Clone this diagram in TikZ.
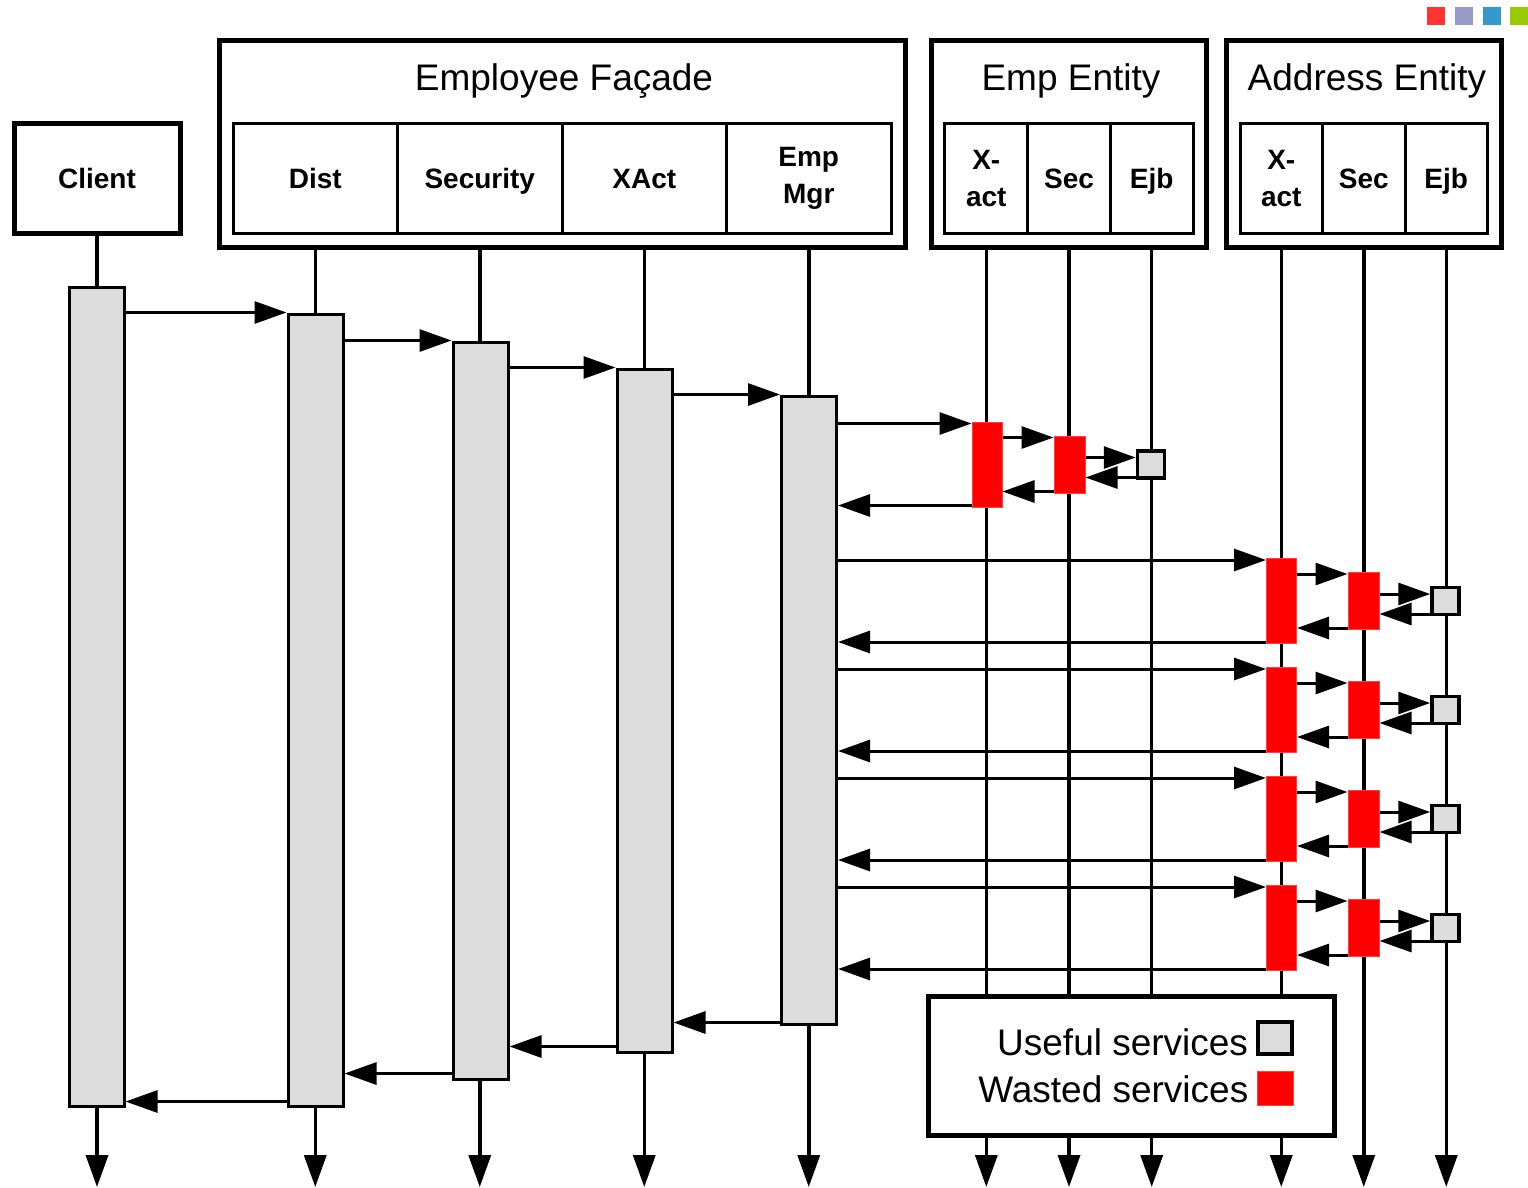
\documentclass[tikz,border=0pt]{standalone}
\usepackage{fontspec}
\setmainfont{Liberation Sans}
\usetikzlibrary{
  positioning,
  arrows.meta,
  }

\definecolor{barGray}{RGB}{220,220,220}
\definecolor{wasteRed}{RGB}{255,0,0}
\definecolor{sqRed}{RGB}{255,51,51}
\definecolor{sqLilac}{RGB}{153,153,204}
\definecolor{sqBlue}{RGB}{51,153,204}
\definecolor{sqGreen}{RGB}{153,204,0}

\tikzset{
  outer/.style={draw, line width=5pt, fill=white, minimum height=207pt, inner sep=0pt},
  head/.style={draw, line width=5pt, fill=white, minimum width=166pt, minimum height=110pt,
    inner sep=0pt, text height=20pt, text depth=0pt, font=\fontsize{28}{37}\selectfont\bfseries},
  cell/.style={draw, line width=3pt, fill=white, minimum height=110pt, inner sep=0pt,
    outer sep=0pt, align=center, font=\fontsize{28}{37}\selectfont\bfseries},
  one/.style={text height=20pt, text depth=0pt},
  title/.style={inner sep=0pt, font=\fontsize{37}{44}\selectfont},
  life/.style={line width=3.5pt, -{Triangle[length=32pt,width=22pt]}},
  msg/.style={line width=3pt, -{Triangle[length=32pt,width=22pt]}},
  bar/.style={draw, line width=3pt, fill=barGray, minimum width=55pt, inner sep=0pt},
  waste/.style={fill=wasteRed, draw=wasteRed!75!white, line width=1pt, minimum width=30pt, inner sep=0pt},
  useful/.style={draw, line width=3.5pt, fill=barGray, minimum width=27pt, minimum height=27pt, inner sep=0pt},
  legtext/.style={inner sep=0pt, text height=26pt, text depth=0pt, font=\fontsize{37}{44}\selectfont},
}

\begin{document}
\begin{tikzpicture}[x=1pt, y=-1pt]
  \useasboundingbox (0,0) rectangle (1528,1187);
  \coordinate (bot) at (0,1187);

  % colour marks
  \foreach \c/\x in {sqRed/1436, sqLilac/1464, sqBlue/1491.5, sqGreen/1519}
    \node[fill=\c, minimum size=18pt, inner sep=0pt] (mark\c) at (\x,16) {};

  % heads
  \node[head] (client) at (97,178) {Client};

  \node[outer, minimum width=686pt] (fac) at (562,143.5) {};
  \node[title] (facT) at (564,81) {Employee Façade};
  \node[cell, one, minimum width=164.5pt] (dist) at (315.25,178) {Dist};
  \node[cell, one, minimum width=164.5pt, right=0pt of dist] (sec) {Security};
  \node[cell, one, minimum width=164.5pt, right=0pt of sec] (xact) {XAct};
  \node[cell, minimum width=164.5pt, right=0pt of xact] (mgr) {Emp\\Mgr};

  \node[outer, minimum width=275pt] (emp) at (1068.5,143.5) {};
  \node[title] (empT) at (1071,81) {Emp Entity};
  \node[cell, minimum width=82.7pt] (eX) at (986.3,178) {X-\\act};
  \node[cell, one, minimum width=82.7pt, right=0pt of eX] (eS) {Sec};
  \node[cell, one, minimum width=82.7pt, right=0pt of eS] (eE) {Ejb};

  \node[outer, minimum width=275pt] (addr) at (1363.5,143.5) {};
  \node[title] (addrT) at (1367,81) {Address Entity};
  \node[cell, minimum width=82.5pt] (aX) at (1281.25,178) {X-\\act};
  \node[cell, one, minimum width=82.5pt, right=0pt of aX] (aS) {Sec};
  \node[cell, one, minimum width=82.5pt, right=0pt of aS] (aE) {Ejb};

  % lifelines
  \draw[life] (client.south) -- (client.south |- bot);
  \foreach \n in {dist, sec, xact, mgr}
    \draw[life] (\n.south |- fac.south) -- (\n.south |- bot);
  \foreach \n in {eX, eS, eE}
    \draw[life] (\n.south |- emp.south) -- (\n.south |- bot);
  \foreach \n in {aX, aS, aE}
    \draw[life] (\n.south |- addr.south) -- (\n.south |- bot);

  % activations
  \node[bar, minimum height=819pt] (clB) at (96.5,696.5) {};
  \node[bar, minimum height=792pt] (diB) at (315.5,710) {};
  \node[bar, minimum height=737pt] (seB) at (480.5,710.5) {};
  \node[bar, minimum height=683pt] (xaB) at (644.5,710.5) {};
  \node[bar, minimum height=628pt] (emB) at (809,710) {};

  % calls down the facade
  \draw[msg] (clB.east |- diB.north) -- (diB.north west);
  \draw[msg] (diB.east |- seB.north) -- (seB.north west);
  \draw[msg] (seB.east |- xaB.north) -- (xaB.north west);
  \draw[msg] (xaB.east |- emB.north) -- (emB.north west);

  % returns
  \draw[msg] ([yshift=3pt]emB.south west) -- ([yshift=3pt]emB.south -| xaB.east);
  \draw[msg] ([yshift=7pt]xaB.south west) -- ([yshift=7pt]xaB.south -| seB.east);
  \draw[msg] ([yshift=7pt]seB.south west) -- ([yshift=7pt]seB.south -| diB.east);
  \draw[msg] ([yshift=6pt]diB.south west) -- ([yshift=6pt]diB.south -| clB.east);

  % entity services
  \foreach \g/\xx/\xs/\xe/\y in {e/987/1069.5/1151/464.5, a1/1281.5/1363.5/1445.5/601,
      a2/1281.5/1363.5/1445.5/710, a3/1281.5/1363.5/1445.5/819, a4/1281.5/1363.5/1445.5/928}{
    \node[waste, minimum height=85pt] (\g X) at (\xx,\y) {};
    \node[waste, minimum width=31pt, minimum height=57pt] (\g S) at (\xs,\y) {};
    \node[useful] (\g E) at (\xe,\y) {};
    \draw[msg] ([yshift=41pt]\g X.west -| emB.east) -- ([yshift=41pt]\g X.west);
    \draw[msg] ([yshift=27pt]\g X.east) -- ([yshift=27pt]\g X.east -| \g S.west);
    \draw[msg] ([yshift=7pt]\g S.east) -- ([yshift=7pt]\g S.east -| \g E.west);
    \draw[msg] ([yshift=-13pt]\g E.west) -- ([yshift=-13pt]\g E.west -| \g S.east);
    \draw[msg] ([yshift=-27pt]\g S.west) -- ([yshift=-27pt]\g S.west -| \g X.east);
    \draw[msg] ([yshift=-41pt]\g X.west) -- ([yshift=-41pt]\g X.west -| emB.east);
  }

  % legend
  \node[draw, line width=5pt, fill=white, minimum width=406pt, minimum height=139pt] (legend) at (1131,1065.5) {};
  \node[useful, minimum width=34pt, minimum height=32pt] (useSq) at (1275,1038) {};
  \node[waste, minimum width=36pt, minimum height=34pt] (wasteSq) at (1275,1088) {};
  \node[legtext, left=8pt of useSq, yshift=-4pt] (useT) {Useful services};
  \node[legtext, left=8pt of wasteSq, yshift=-1pt] (wasteT) {Wasted services};
\end{tikzpicture}
\end{document}
